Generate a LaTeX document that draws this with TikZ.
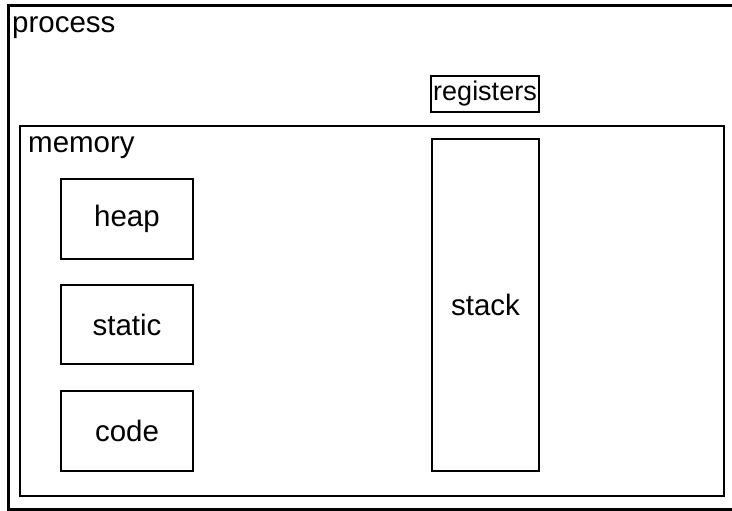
\documentclass[tikz,border=0pt]{standalone}
\usepackage{fontspec}
\setmainfont{Liberation Sans}
\begin{document}
\begin{tikzpicture}[x=1pt,y=-1pt,
  every node/.style={font=\fontsize{29.5}{35}\selectfont, inner sep=0pt},
  part/.style={draw, line width=2.6pt, align=center},
  caption/.style={anchor=base west}]
  \useasboundingbox (0,0) rectangle (732,511);
  % process boundary (runs off the right edge)
  \draw[line width=3pt] (760,6) -- (8,6) -- (8,509) -- (760,509);
  \node[caption] (proc) at (12,33) {process};
  % registers
  \node[part, minimum width=108pt, minimum height=36pt,
        font=\fontsize{27}{32}\selectfont] (reg) at (485,94) {registers};
  % memory region
  \node[part, minimum width=704pt, minimum height=370pt] (mem) at (372,311) {};
  \node[caption] (memlbl) at (28,153) {memory};
  % memory parts
  \node[part, minimum width=132pt, minimum height=80pt] (heap) at (127,219) {heap};
  \node[part, minimum width=132pt, minimum height=79pt] (static) at (127,324.5) {static};
  \node[part, minimum width=132pt, minimum height=80pt] (code) at (127,431) {code};
  \node[part, minimum width=107pt, minimum height=332pt] (stack) at (485.5,305) {stack};
\end{tikzpicture}
\end{document}
